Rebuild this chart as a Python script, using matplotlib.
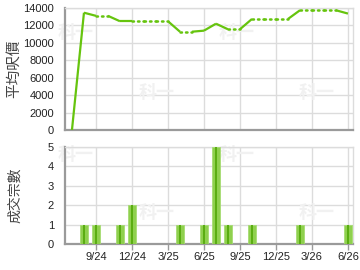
import matplotlib
matplotlib.use("Agg")
import matplotlib.pyplot as plt
import numpy as np

# months indexed from 9/24 = 0
months = list(range(-2, 22))
# average price per month (None = no transactions that month)
avg_price = [0, 13460, 13100, None, 12480, 12480, None, None, None, 11280, None, 11400,
             12200, 11560, None, 12740, None, None, None, 13740, None, None, None, 13360]
# transactions per month
deals = [0, 1, 1, 0, 1, 2, 0, 0, 0, 1, 0, 1, 5, 1, 0, 1, 0, 0, 0, 1, 0, 0, 0, 1]
tick_pos = [0, 3, 6, 9, 12, 15, 18, 21]
tick_labels = ['9/24', '12/24', '3/25', '6/25', '9/25', '12/25', '3/26', '6/26']

plt.rcParams['font.family'] = ['Liberation Sans', 'Noto Sans CJK TC', 'DejaVu Sans']

GREEN = '#66c40e'
GRID = '#dcdcdc'
SPINE = '#9a9a9a'
TXT = '#222222'

fig = plt.figure(figsize=(3.6, 2.7), dpi=100)
ax1 = fig.add_axes([65/360, 1-130/270, 288/360, 122/270])
ax2 = fig.add_axes([65/360, 1-244/270, 288/360, 97/270])

xmin, xmax = -2.58, 21.42

# carry forward values for missing months
drawn = []
last = None
for v in avg_price:
    if v is not None:
        last = v
    drawn.append(last)

for i in range(1, len(months)):
    solid = avg_price[i] is not None
    ax1.plot([months[i-1], months[i]], [drawn[i-1], drawn[i]], color=GREEN,
             lw=1.6 if solid else 1.8,
             linestyle='-' if solid else (0, (0.6, 1.6)),
             solid_capstyle='butt', dash_capstyle='round', zorder=3)

for ax in (ax1, ax2):
    ax.set_xlim(xmin, xmax)
    ax.set_xticks(tick_pos)
    ax.grid(True, color=GRID, lw=1.0, zorder=1)
    ax.set_axisbelow(True)
    for s in ('top', 'right'):
        ax.spines[s].set_color(GRID)
        ax.spines[s].set_linewidth(1.0)
    for s in ('left', 'bottom'):
        ax.spines[s].set_color(SPINE)
        ax.spines[s].set_linewidth(1.6)
    ax.tick_params(axis='y', length=0, pad=8, labelsize=8, labelcolor=TXT)

ax1.set_ylim(0, 14000)
ax1.set_yticks(range(0, 14001, 2000))
ax1.tick_params(axis='x', length=0, labelbottom=False)
ax1.set_ylabel('平均呎價', fontsize=10.5, color='#444444',
               family=['Noto Sans CJK TC'], fontweight='light')
ax1.yaxis.set_label_coords(-0.153, 0.5)

# bars
w = 0.66
ax2.bar(months, deals, width=w, color='#8fd04e', edgecolor='#a6dc72', lw=0.6, zorder=3)
ax2.bar(months, deals, width=w*0.35, color='#5aad12', lw=0, zorder=4)
ax2.set_ylim(0, 5)
ax2.set_yticks(range(0, 6))
ax2.set_xticklabels(tick_labels)
ax2.tick_params(axis='x', length=4, width=1, color=SPINE, labelsize=8, labelcolor=TXT, pad=2)
ax2.set_ylabel('成交宗數', fontsize=10, color='#444444',
               family=['Noto Sans CJK TC'], fontweight='light')
ax2.yaxis.set_label_coords(-0.149, 0.5)

# watermarks
for ax, pts in ((ax1, [(76, 33), (157, 93), (237, 33), (317, 93)]),
                (ax2, [(76, 155), (157, 212), (237, 155), (317, 212)])):
    for px, py in pts:
        ax.text(px/360, 1-py/270, '科一', fontsize=13, color='#f1f1f1',
                ha='center', va='center', family=['Noto Sans CJK TC'],
                fontweight='bold', transform=fig.transFigure, zorder=2)

fig.savefig('out.png', dpi=100)
